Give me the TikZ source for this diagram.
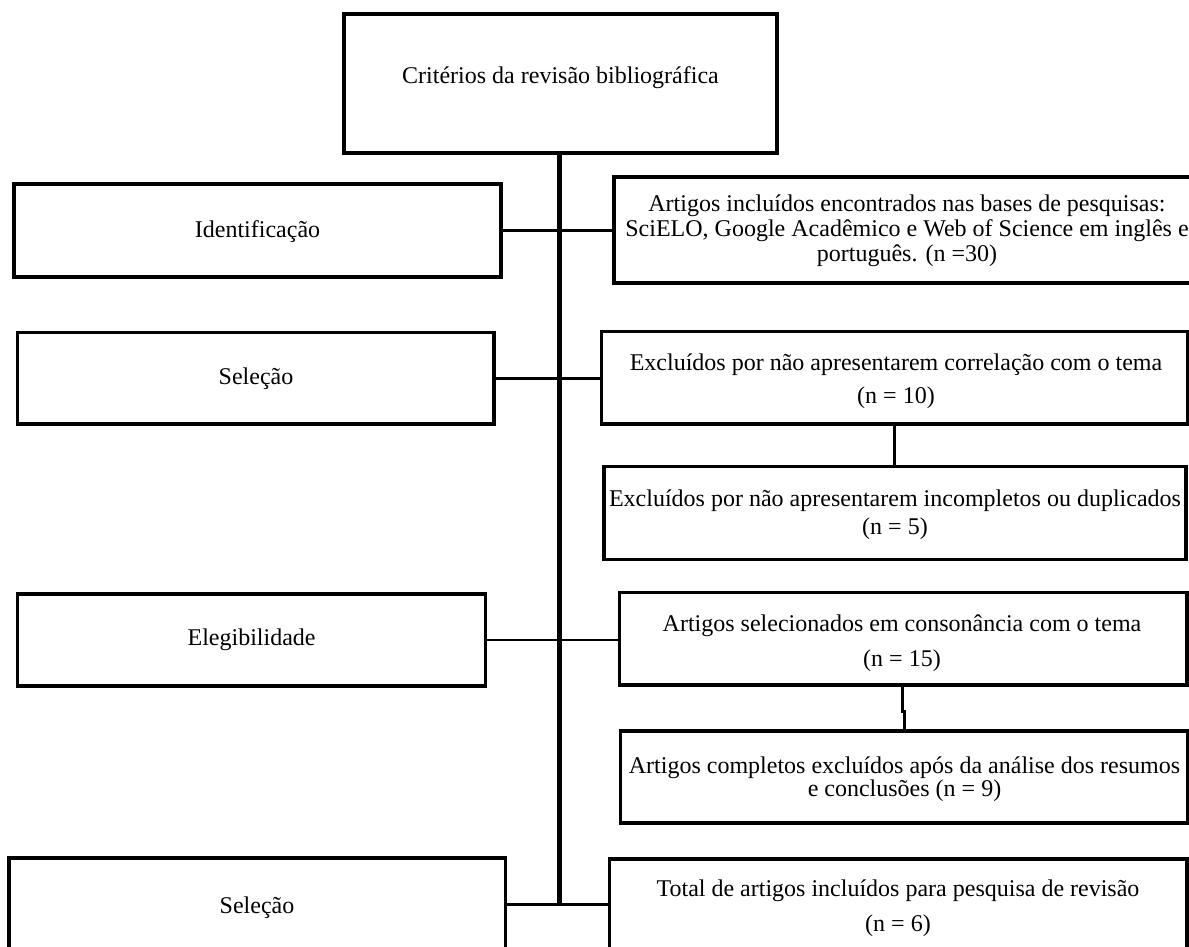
\documentclass[tikz,border=0pt]{standalone}
\usepackage{fontspec}
\setmainfont{Liberation Serif}
\usetikzlibrary{fit}
\begin{document}
\begin{tikzpicture}[x=0.5pt,y=-0.5pt,
  box/.style={draw, line width=1.6pt, inner sep=0pt},
  txt/.style={align=center, inner sep=0pt, font=\fontsize{12}{14}\selectfont},
  conn/.style={line width=1.4pt},
  vconn/.style={line width=1.6pt},
  trunkline/.style={line width=2.2pt}]
\useasboundingbox (0,0) rectangle (1189,947);
\clip (0,0) rectangle (1189,947);
% boxes
\node[box, fit={(344,14) (777,153)}] (crit) {};
\node[txt] (critT) at (560.5,78) {Critérios da revisão bibliográfica};

\node[box, fit={(14,184) (501,277)}] (ident) {};
\node[txt] (identT) at (257.5,232) {Identificação};

\node[box, fit={(614,177) (1200,283)}] (art) {};
\node[txt, font=\fontsize{12}{12.5}\selectfont] (artT) at (907,231) {Artigos incluídos encontrados nas bases de pesquisas:\\SciELO, Google Acadêmico e Web of Science em inglês e\\português. (n =30)};

\node[box, fit={(17.4,332.3) (494,424)}] (selA) {};
\node[txt] (selAT) at (256,379) {Seleção};

\node[box, fit={(601.4,331.7) (1188,424)}] (exA) {};
\node[txt, font=\fontsize{12}{16.5}\selectfont] (exAT) at (896,381) {Excluídos por não apresentarem correlação com o tema\\(n = 10)};

\node[box, fit={(604,466.7) (1186,559.3)}] (exB) {};
\node[txt, font=\fontsize{12}{14}\selectfont] (exBT) at (895,515) {Excluídos por não apresentarem incompletos ou duplicados\\(n = 5)};

\node[box, fit={(17.8,594) (485.4,686)}] (eleg) {};
\node[txt] (elegT) at (251.6,640) {Elegibilidade};

\node[box, fit={(619.6,592.3) (1187,685)}] (sel) {};
\node[txt, font=\fontsize{12}{17.5}\selectfont] (selT) at (902,643) {Artigos selecionados em consonância com o tema\\(n = 15)};

\node[box, fit={(620.8,731) (1188,823)}] (comp) {};
\node[txt, font=\fontsize{12}{11.7}\selectfont] (compT) at (904.5,779.5) {Artigos completos excluídos após da análise dos resumos\\e conclusões (n = 9)};

\node[box, fit={(9,858) (505.7,960)}] (selB) {};
\node[txt] (selBT) at (257,907.5) {Seleção};

\node[box, fit={(609.3,859) (1187,960)}] (tot) {};
\node[txt, font=\fontsize{12}{17.5}\selectfont] (totT) at (898,908.5) {Total de artigos incluídos para pesquisa de revisão\\(n = 6)};

% connectors
\coordinate (tend) at (559.5,904.5);
\draw[trunkline] (crit.south -| tend) -- (tend);
\draw[conn] (ident.east) -- (ident.east -| art.west);
\draw[conn] (selA.east) -- (selA.east -| exA.west);
\draw[conn] (eleg.east) -- (eleg.east -| sel.west);
\draw[conn] (selB.east |- tend) -- (tend -| tot.west);
\draw[vconn] (exA.south) -- (exA.south |- exB.north);
\coordinate (j1) at (902.3,711.7);
\coordinate (j2) at (904.7,711.7);
\draw[vconn] (sel.south -| j1) -- (j1) -- (j2) -- (comp.north -| j2);
\end{tikzpicture}
\end{document}
